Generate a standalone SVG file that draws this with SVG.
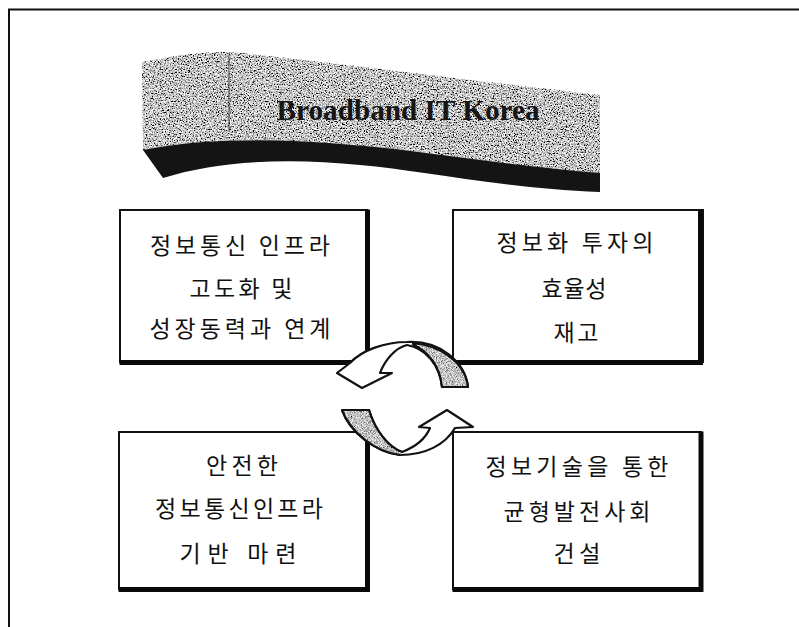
<svg xmlns="http://www.w3.org/2000/svg" width="799" height="627" viewBox="0 0 799 627">
<style>
.frame{fill:none;stroke:#111;stroke-width:2}
.box{fill:#fff;stroke:#111;stroke-width:2}
.shadow{fill:none;stroke:#0a0a0a;stroke-width:5;stroke-linecap:square}
.kr{font-family:"Noto Sans CJK KR","Noto Sans",sans-serif;font-size:23px;fill:#111;text-anchor:middle}
.title{font-family:"Liberation Serif",serif;font-weight:bold;font-size:29px;fill:#161616;text-anchor:middle}
.arrow{fill:#fff;stroke:#111;stroke-width:2.2;stroke-linejoin:round}
.shade{fill:#9a9a9a;stroke:none}
.edge{fill:none;stroke:#111;stroke-width:2.2;stroke-linejoin:round}
</style>
<defs>
<filter id="grain" x="0" y="0" width="100%" height="100%" filterUnits="objectBoundingBox">
<feTurbulence type="fractalNoise" baseFrequency="0.75" numOctaves="2" seed="7" result="n"/>
<feColorMatrix in="n" type="matrix" values="2.8 0 0 0 -0.85  2.8 0 0 0 -0.85  2.8 0 0 0 -0.85  0 0 0 0 1" result="g"/>
<feComposite in="g" in2="SourceGraphic" operator="in"/>
</filter>
<filter id="grainlight" x="0" y="0" width="100%" height="100%" filterUnits="objectBoundingBox">
<feTurbulence type="fractalNoise" baseFrequency="1.2" numOctaves="1" seed="3" result="n"/>
<feColorMatrix in="n" type="matrix" values="2 0 0 0 -0.45  2 0 0 0 -0.45  2 0 0 0 -0.45  0 0 0 0 1" result="g"/>
<feComposite in="g" in2="SourceGraphic" operator="in"/>
</filter>
</defs>
<rect width="799" height="627" fill="#fff"/>
<path class="frame" d="M9,627 V9.5 H799"/>

<g id="banner">
<path d="M142,62 C180,55 210,50 240,53 C330,62 450,78 600,95 L600,175 C500,165 420,150 353,145 C280,138 200,138 143,150 Z" fill="#999" filter="url(#grain)"/>
<path d="M143,150 C200,138 280,138 353,145 C420,150 500,165 600,173 L600,192 C500,188 420,170 360,165 C290,158 220,160 163,178 Z" fill="#141414"/>
<line x1="229" y1="55" x2="229" y2="132" stroke="#333" stroke-width="1.5" opacity="0.6"/>
<text class="title" x="408" y="120" textLength="263" lengthAdjust="spacingAndGlyphs">Broadband IT Korea</text>
</g>

<g id="box1">
<rect class="box" x="120" y="210" width="247" height="152"/>
<path class="shadow" d="M367.5,212 V362.5 H122"/>
<text class="kr" x="240" y="254" textLength="180">정보통신 인프라</text>
<text class="kr" x="241" y="297" textLength="103">고도화 및</text>
<text class="kr" x="240" y="337" textLength="181">성장동력과 연계</text>
</g>

<g id="box2">
<rect class="box" x="453" y="210" width="250" height="152"/>
<path class="shadow" d="M700.5,212 V362.5 H455"/>
<text class="kr" x="575" y="251" textLength="157">정보화 투자의</text>
<text class="kr" x="574" y="297" textLength="65">효율성</text>
<text class="kr" x="576" y="341" textLength="45">재고</text>
</g>

<g id="box3">
<rect class="box" x="119" y="432" width="248" height="157"/>
<path class="shadow" d="M367.5,434 V589.5 H121"/>
<text class="kr" x="242" y="474" textLength="72">안전한</text>
<text class="kr" x="239" y="517" textLength="168">정보통신인프라</text>
<text class="kr" x="238" y="562" textLength="117">기반 마련</text>
</g>

<g id="box4">
<rect class="box" x="453" y="432" width="248" height="157"/>
<path class="shadow" d="M701,434 V589.5 H455"/>
<text class="kr" x="577" y="475" textLength="183">정보기술을 통한</text>
<text class="kr" x="577" y="520" textLength="147">균형발전사회</text>
<text class="kr" x="577" y="562" textLength="47">건설</text>
</g>

<g id="connectors">
<path class="arrow" d="M468,387 C465,362 440,340 407,342 C385,342 362,350 350,363 L337,373 L362,388 L392,373 L380,373 C385,360 395,348 407,345 C425,348 440,365 442,387 Z"/>
<path class="shade" d="M412,343 C440,345 465,362 468,387 L442,387 C440,366 428,351 412,344 Z" filter="url(#grainlight)"/>
<path class="edge" d="M412,343 C440,345 465,362 468,387 L442,387 C440,366 428,351 412,344"/>
<path class="arrow" d="M342,410 L369,410 C375,430 388,447 402,452 C415,447 425,440 430,428 L419,427 L447,410 L473,427 L455,428 C445,445 425,455 400,455 C375,452 350,432 342,410 Z"/>
<path class="shade" d="M342,410 L369,410 C375,430 388,447 402,452 L400,455 C375,452 350,432 342,410 Z" filter="url(#grainlight)"/>
<path class="edge" d="M342,410 L369,410 C375,430 388,447 402,452 M400,455 C375,452 350,432 342,410"/>
</g>
</svg>
